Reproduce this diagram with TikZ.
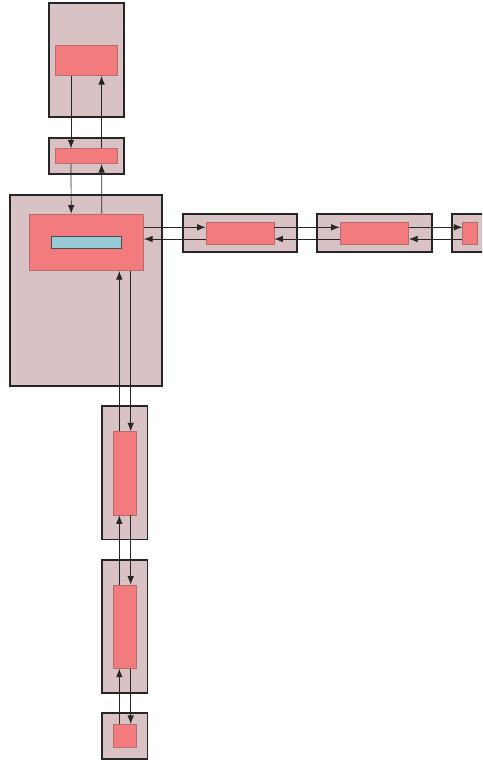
\documentclass[tikz,border=0pt]{standalone}
\usetikzlibrary{arrows.meta}

\definecolor{shell}{HTML}{D8C2C3}
\definecolor{core}{HTML}{F27B7E}
\definecolor{coreline}{HTML}{B86A6D}
\definecolor{slot}{HTML}{97C9D6}

\tikzset{
  shellbox/.style={draw=black!85, line width=1.7pt, fill=shell, inner sep=0pt},
  corebox/.style={draw=coreline, line width=0.7pt, fill=core, inner sep=0pt},
  slotbox/.style={draw=black!70, line width=0.9pt, fill=slot, inner sep=0pt},
  link/.style={-{Latex[length=8.5pt,width=6.5pt]}, line width=0.7pt, black!85}
}

\begin{document}
\begin{tikzpicture}[x=1pt, y=-1pt]
		%%%%% FRAME %%%%%
		\useasboundingbox (0, 0) rectangle (482, 760);
		\clip (0, 0) rectangle (482, 760);
		
		%%%%% OUTER SHELLS %%%%%
		\node[shellbox, minimum width=75.6pt, minimum height=114pt] (top) at (86.5, 60) {};
		\node[shellbox, minimum width=75.6pt, minimum height=36.6pt] (mid) at (86.5, 156) {};
		\node[shellbox, minimum width=152pt, minimum height=190.7pt] (big) at (86.3, 290.3) {};
		
		\node[shellbox, minimum width=114pt, minimum height=37.4pt] (r1) at (239.7, 233) {};
		\node[shellbox, minimum width=114.4pt, minimum height=37.4pt] (r2) at (374.5, 233) {};
		\node[shellbox, minimum width=37pt, minimum height=37.4pt] (r3) at (470.2, 233) {};
		
		\node[shellbox, minimum width=45.3pt, minimum height=133.3pt] (b1) at (124.7, 472.7) {};
		\node[shellbox, minimum width=45.3pt, minimum height=132.7pt] (b2) at (124.7, 626.3) {};
		\node[shellbox, minimum width=45.3pt, minimum height=46pt] (b3) at (124.7, 736.3) {};
		
		%%%%% INNER CORES %%%%%
		\node[corebox, minimum width=61.3pt, minimum height=30.7pt] (topin) at (86.3, 60.3) {};
		\node[corebox, minimum width=61.3pt, minimum height=15pt] (midin) at (86.3, 156.2) {};
		\node[corebox, minimum width=114.4pt, minimum height=56.7pt] (bigin) at (86.5, 242.3) {};
		\node[slotbox, minimum width=69.3pt, minimum height=12pt] (slot) at (86.3, 242.7) {};
		
		\node[corebox, minimum width=68pt, minimum height=22.3pt] (r1in) at (240, 233.2) {};
		\node[corebox, minimum width=68.7pt, minimum height=22.3pt] (r2in) at (374.3, 233.2) {};
		\node[corebox, minimum width=15pt, minimum height=22.3pt] (r3in) at (470.2, 233.2) {};
		
		\node[corebox, minimum width=22.7pt, minimum height=83.3pt] (b1in) at (124.7, 473.3) {};
		\node[corebox, minimum width=22.7pt, minimum height=83.3pt] (b2in) at (124.7, 626.7) {};
		\node[corebox, minimum width=22.7pt, minimum height=23pt] (b3in) at (124.7, 735.8) {};
		
		%%%%% UPWARD CHAIN %%%%%
		\draw[link] ([xshift=-15.3pt]topin.south) -- ([xshift=-15.3pt]midin.north);
		\draw[link] ([xshift=-15.3pt]midin.south) -- ([xshift=-15.3pt]bigin.north);
		\draw[link] ([xshift=15.3pt]midin.north) -- ([xshift=15.3pt]topin.south);
		\draw[link] ([xshift=15.3pt]bigin.north) -- ([xshift=15.3pt]midin.south);
		
		%%%%% SIDEWAYS CHAIN %%%%%
		\draw[link] ([yshift=5.9pt]r1in.west -| bigin.east) -- ([yshift=5.9pt]r1in.west);
		\draw[link] ([yshift=-5.8pt]r1in.west) -- ([yshift=-5.8pt]r1in.west -| bigin.east);
		\draw[link] ([yshift=5.9pt]r1in.east) -- ([yshift=5.9pt]r2in.west);
		\draw[link] ([yshift=-5.8pt]r2in.west) -- ([yshift=-5.8pt]r1in.east);
		\draw[link] ([yshift=5.9pt]r2in.east) -- ([yshift=5.9pt]r3in.west);
		\draw[link] ([yshift=-5.8pt]r3in.west) -- ([yshift=-5.8pt]r2in.east);
		
		%%%%% DOWNWARD CHAIN %%%%%
		\draw[link] ([xshift=6pt]b1in.north |- bigin.south) -- ([xshift=6pt]b1in.north);
		\draw[link] ([xshift=-5.4pt]b1in.north) -- ([xshift=-5.4pt]b1in.north |- bigin.south);
		\draw[link] ([xshift=6pt]b1in.south) -- ([xshift=6pt]b2in.north);
		\draw[link] ([xshift=-5.4pt]b2in.north) -- ([xshift=-5.4pt]b1in.south);
		\draw[link] ([xshift=6pt]b2in.south) -- ([xshift=6pt]b3in.north);
		\draw[link] ([xshift=-5.4pt]b3in.north) -- ([xshift=-5.4pt]b2in.south);
		%%%%% END %%%%%
	\end{tikzpicture}
\end{document}
